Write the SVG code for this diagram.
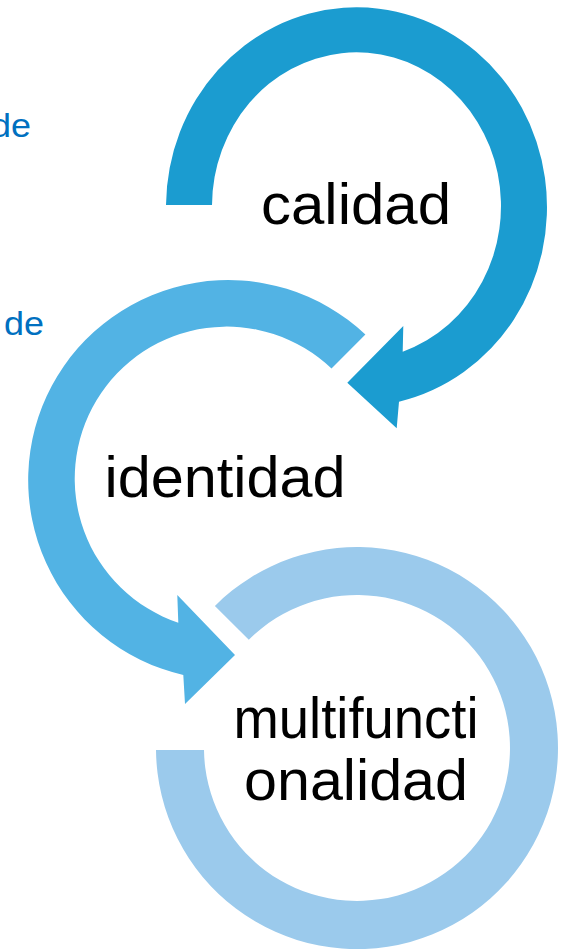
<svg xmlns="http://www.w3.org/2000/svg" width="564" height="950" viewBox="0 0 564 950">
<style>
.lbl{font-family:"Liberation Sans",Arial,sans-serif;font-size:57px;fill:#000;text-anchor:middle}
.side{font-family:"Liberation Sans",Arial,sans-serif;font-size:34px;fill:#0070C0}
.c1{fill:#1B9CD0}
.c2{fill:#52B3E4}
.c3{fill:#9BCAEC}
</style>
<rect width="564" height="950" fill="#fff"/>
<g id="side-text">
<text class="side" x="31" y="137" text-anchor="end" textLength="40" lengthAdjust="spacingAndGlyphs">de</text>
<text class="side" x="4" y="335" textLength="40" lengthAdjust="spacingAndGlyphs">de</text>
</g>
<g id="node-multifuncionalidad">
<path class="c3" d="M214.9 605.9 A201 201 0 1 1 156 750 L204 750 A153 153 0 1 0 248.8 639.8 Z"/>
<text class="lbl" x="356" y="738" textLength="245" lengthAdjust="spacingAndGlyphs">multifuncti</text>
<text class="lbl" x="356" y="800" textLength="224" lengthAdjust="spacingAndGlyphs">onalidad</text>
</g>
<g id="node-identidad">
<path class="c2" d="M365.4 334.6 A200 200 0 1 0 183.3 675 L185 704 L235 655 L177.3 595 L178.3 622.7 A152 152 0 1 1 331.5 368.5 Z"/>
<text class="lbl" x="225" y="497" textLength="241" lengthAdjust="spacingAndGlyphs">identidad</text>
</g>
<g id="node-calidad">
<path class="c1" d="M166 205 A190.5 199.7 0 1 1 399 401.7 L396.7 428.3 L347.3 382.7 L403.3 326 L402.7 351.7 A144.5 153.7 0 1 0 212 205 Z"/>
<text class="lbl" x="356" y="224" textLength="190" lengthAdjust="spacingAndGlyphs">calidad</text>
</g>
<g id="connectors"></g>
</svg>
